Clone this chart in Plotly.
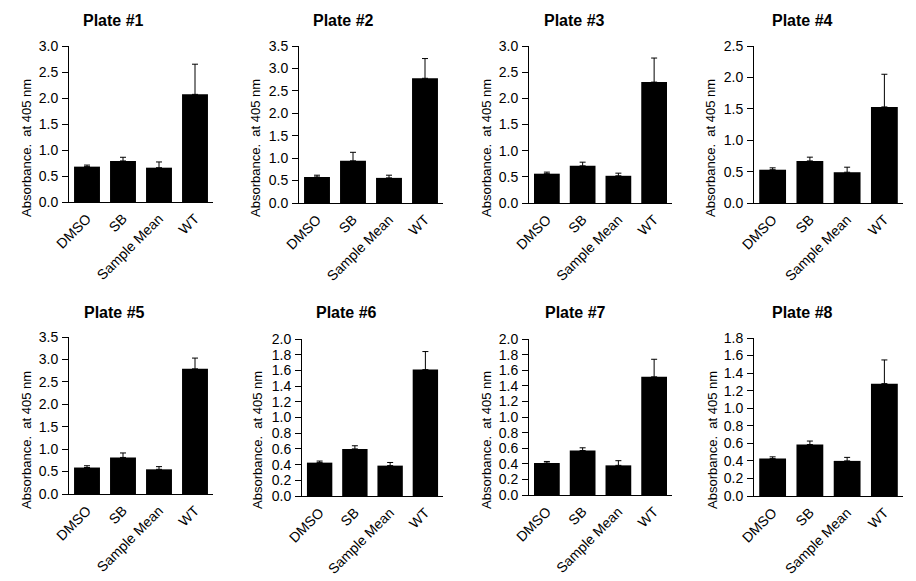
import plotly.graph_objects as go

categories = ["DMSO", "SB", "Sample Mean", "WT"]
plate_titles = ["Plate #1", "Plate #2", "Plate #3", "Plate #4",
                "Plate #5", "Plate #6", "Plate #7", "Plate #8"]
means = [
    [0.68, 0.79, 0.66, 2.07],
    [0.58, 0.94, 0.56, 2.78],
    [0.56, 0.71, 0.52, 2.31],
    [0.53, 0.67, 0.49, 1.53],
    [0.59, 0.815, 0.55, 2.79],
    [0.425, 0.60, 0.387, 1.61],
    [0.41, 0.57, 0.38, 1.515],
    [0.426, 0.586, 0.40, 1.28],
]
errors = [
    [0.03, 0.07, 0.11, 0.58],
    [0.04, 0.19, 0.06, 0.44],
    [0.03, 0.07, 0.05, 0.46],
    [0.03, 0.06, 0.08, 0.52],
    [0.04, 0.10, 0.06, 0.24],
    [0.02, 0.04, 0.04, 0.23],
    [0.02, 0.035, 0.06, 0.225],
    [0.02, 0.04, 0.04, 0.27],
]
y_max = [3.0, 3.5, 3.0, 2.5, 3.5, 2.0, 2.0, 1.8]
y_step = [0.5, 0.5, 0.5, 0.5, 0.5, 0.2, 0.2, 0.2]
y_title = "Absorbance.  at 405 nm"

W, H = 916, 581
# pixel boxes: (left, right, top, bottom)
boxes = [
    (69, 213, 46, 202), (299, 443, 46, 203), (529, 672, 46, 203), (754, 903, 46, 203),
    (69, 213, 337, 494), (302, 443, 339, 496), (529, 672, 339, 495), (754, 903, 338, 496),
]
ytitle_pos = [(26, 148), (255, 148), (486, 148), (710, 148),
              (26, 440), (257, 440), (486, 440), (712, 440)]
title_pos = [(113, 20), (343, 20), (574, 20), (802, 20),
             (114, 312), (346, 312), (575, 312), (802, 312)]

FONT = "Arial, Liberation Sans, sans-serif"

fig = go.Figure()
layout = dict(
    width=W, height=H, margin=dict(l=0, r=0, t=0, b=0, autoexpand=False),
    paper_bgcolor="white", plot_bgcolor="white", showlegend=False,
    font=dict(family=FONT, color="black", size=12),
    annotations=[],
)

for i in range(8):
    n = i + 1
    xa = "x" if n == 1 else f"x{n}"
    ya = "y" if n == 1 else f"y{n}"
    fig.add_trace(go.Bar(
        x=categories, y=means[i], xaxis=xa, yaxis=ya,
        marker=dict(color="black", line=dict(width=0)),
        error_y=dict(type="data", array=errors[i], symmetric=False,
                     arrayminus=[0] * 4, color="black", thickness=1, width=3),
        width=0.72,
    ))
    l, r, t, b = boxes[i]
    layout[f"xaxis{'' if n == 1 else n}"] = dict(
        domain=[l / W, r / W], anchor=ya, type="category", automargin=False,
        range=[-0.5, 3.5], showline=True, linecolor="black", linewidth=1,
        ticks="", tickangle=-45, tickfont=dict(size=14, family=FONT),
        ticklabelstandoff=2,
        showgrid=False, zeroline=False, fixedrange=True,
    )
    layout[f"yaxis{'' if n == 1 else n}"] = dict(
        domain=[1 - b / H, 1 - t / H], anchor=xa, automargin=False,
        range=[0, y_max[i]], dtick=y_step[i], tick0=0, tickformat=".1f",
        showline=True, linecolor="black", linewidth=1,
        ticks="outside", ticklen=6, tickcolor="black",
        tickfont=dict(size=14, family=FONT), ticklabelstandoff=1,
        showgrid=False, zeroline=False, fixedrange=True,
    )
    tx, tyy = ytitle_pos[i]
    layout["annotations"].append(dict(
        text=y_title, x=tx / W, y=1 - tyy / H, xref="paper", yref="paper",
        textangle=-90, showarrow=False, xanchor="center", yanchor="middle",
        font=dict(size=13, family=FONT),
    ))
    px_, py_ = title_pos[i]
    layout["annotations"].append(dict(
        text=f"<b>{plate_titles[i]}</b>", x=px_ / W, y=1 - py_ / H,
        xref="paper", yref="paper", showarrow=False,
        xanchor="center", yanchor="middle", font=dict(size=16, family=FONT),
    ))

fig.update_layout(**layout)
fig.write_html("out.html", config={"displayModeBar": False},
               post_script="document.body.style.margin='0px';document.body.style.padding='0px';")
